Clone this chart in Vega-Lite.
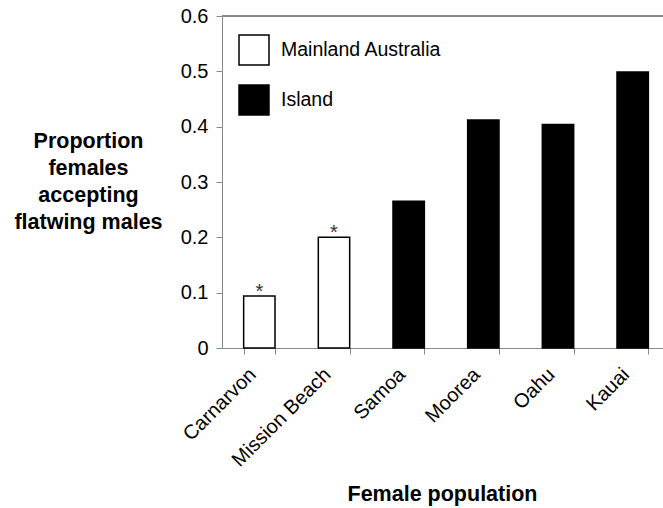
{
  "$schema": "https://vega.github.io/schema/vega-lite/v6.json",
  "autosize": "none",
  "width": 441,
  "height": 332,
  "padding": {"left": 222, "top": 16, "right": 0, "bottom": 160},
  "background": "white",
  "config": {
    "font": "Liberation Sans",
    "view": {"stroke": null},
    "axis": {"grid": false, "domainColor": "#888", "tickColor": "#888", "labelColor": "black", "titleColor": "black"}
  },
  "data": {
    "values": [
      {"population": "Carnarvon", "type": "Mainland Australia", "proportion": 0.094, "sig": "*"},
      {"population": "Mission Beach", "type": "Mainland Australia", "proportion": 0.2, "sig": "*"},
      {"population": "Samoa", "type": "Island", "proportion": 0.265, "sig": ""},
      {"population": "Moorea", "type": "Island", "proportion": 0.412, "sig": ""},
      {"population": "Oahu", "type": "Island", "proportion": 0.404, "sig": ""},
      {"population": "Kauai", "type": "Island", "proportion": 0.499, "sig": ""}
    ]
  },
  "encoding": {
    "x": {
      "field": "population", "type": "nominal", "sort": null,
      "scale": {"paddingInner": 0.58, "paddingOuter": 0.29, "range": [0, 448]},
      "axis": {
        "title": "Female population", "titleFontSize": 21.5, "titleFontWeight": "bold",
        "titleBaseline": "alphabetic", "titleY": 152, "titleX": 220,
        "labelAngle": -45, "labelFontSize": 20, "labelPadding": 10, "labelOffset": -14,
        "tickBand": "extent", "tickSize": 6
      }
    },
    "y": {
      "field": "proportion", "type": "quantitative",
      "scale": {"domain": [0, 0.6], "nice": false},
      "axis": {
        "values": [0, 0.1, 0.2, 0.3, 0.4, 0.5, 0.6], "format": ".1~f",
        "labelFontSize": 20, "labelPadding": 8, "tickSize": 6,
        "title": ["Proportion", "females", "accepting", "flatwing males"],
        "titleAngle": 0, "titleAlign": "center", "titleBaseline": "top",
        "titleX": -134, "titleY": 114, "titleFontSize": 21.5, "titleFontWeight": "bold",
        "titleLineHeight": 27
      }
    }
  },
  "layer": [
    {
      "mark": {"type": "rule", "color": "#888", "strokeWidth": 1},
      "encoding": {"y": {"datum": 0.6}, "x": null}
    },
    {
      "mark": {"type": "bar", "stroke": "black", "strokeWidth": 1.5},
      "encoding": {
        "color": {
          "field": "type", "type": "nominal",
          "scale": {"domain": ["Mainland Australia", "Island"], "range": ["white", "black"]},
          "legend": {
            "title": null, "orient": "none", "legendX": 16, "legendY": 18,
            "symbolType": "square", "symbolSize": 900, "symbolStrokeColor": "black",
            "symbolStrokeWidth": 1.5, "labelFontSize": 19.5, "labelOffset": 11,
            "labelLimit": 400, "rowPadding": 14, "labelColor": "black"
          }
        }
      }
    },
    {
      "mark": {"type": "text", "dy": -4, "fontSize": 20, "color": "#333"},
      "encoding": {"text": {"field": "sig"}}
    }
  ]
}
